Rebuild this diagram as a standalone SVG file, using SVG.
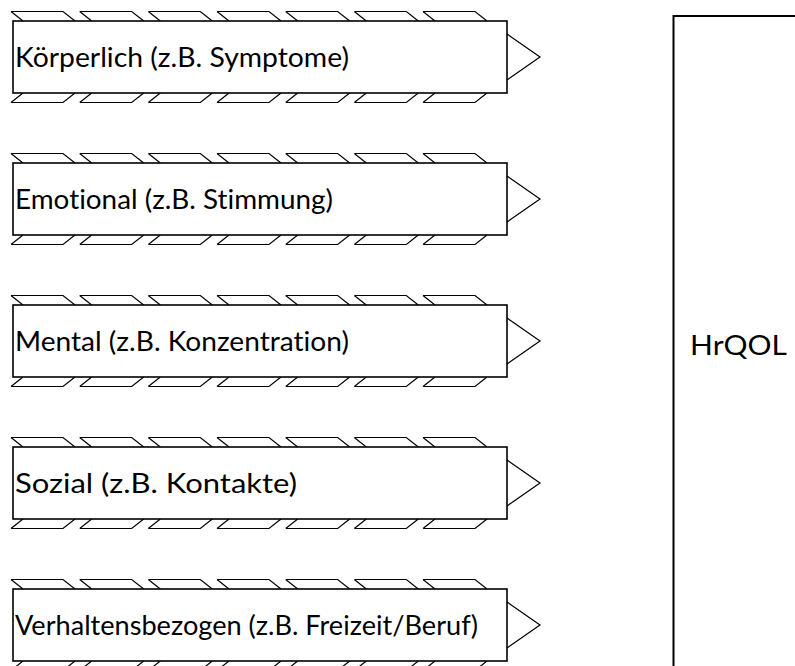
<svg xmlns="http://www.w3.org/2000/svg" xmlns:xlink="http://www.w3.org/1999/xlink" width="795" height="666" viewBox="0 0 795 666">
<style>
.box{fill:#fff;stroke:#000;stroke-width:1.6}
.tab{fill:none;stroke:#000;stroke-width:1.2;stroke-linejoin:miter}
.lbl{font-family:Lato,"Open Sans","Liberation Sans",sans-serif;font-size:27px;fill:#000;font-variant-ligatures:none}
.big{fill:#fff;stroke:#000;stroke-width:2}
</style>
<defs>
<g id="shape">
<path class="tab" d="M-2,-9.5h52l12,9.5M-2,-9.5l12,9.5 M66.7,-9.5h52l12,9.5M66.7,-9.5l12,9.5 M135.3,-9.5h52l12,9.5M135.3,-9.5l12,9.5 M204,-9.5h52l12,9.5M204,-9.5l12,9.5 M272.7,-9.5h52l12,9.5M272.7,-9.5l12,9.5 M341.3,-9.5h52l12,9.5M341.3,-9.5l12,9.5 M410,-9.5h52l12,9.5M410,-9.5l12,9.5"/>
<path class="tab" d="M-2,81.5h52l12,-9.5M-2,81.5l12,-9.5 M66.7,81.5h52l12,-9.5M66.7,81.5l12,-9.5 M135.3,81.5h52l12,-9.5M135.3,81.5l12,-9.5 M204,81.5h52l12,-9.5M204,81.5l12,-9.5 M272.7,81.5h52l12,-9.5M272.7,81.5l12,-9.5 M341.3,81.5h52l12,-9.5M341.3,81.5l12,-9.5 M410,81.5h52l12,-9.5M410,81.5l12,-9.5"/>
<rect class="box" x="0" y="0" width="494" height="72"/>
<path class="tab" d="M494,13L527,36L494,59"/>
</g>
</defs>
<g id="connectors"></g>
<g id="node-koerperlich" transform="translate(13,21)">
<use xlink:href="#shape"/>
<text class="lbl" x="2" y="45.5" textLength="334" lengthAdjust="spacingAndGlyphs">Körperlich (z.B. Symptome)</text>
</g>
<g id="node-emotional" transform="translate(13,163)">
<use xlink:href="#shape"/>
<text class="lbl" x="2" y="45.5" textLength="318" lengthAdjust="spacingAndGlyphs">Emotional (z.B. Stimmung)</text>
</g>
<g id="node-mental" transform="translate(13,305)">
<use xlink:href="#shape"/>
<text class="lbl" x="2" y="45.5" textLength="334" lengthAdjust="spacingAndGlyphs">Mental (z.B. Konzentration)</text>
</g>
<g id="node-sozial" transform="translate(13,447)">
<use xlink:href="#shape"/>
<text class="lbl" x="2" y="45.5" textLength="282" lengthAdjust="spacingAndGlyphs">Sozial (z.B. Kontakte)</text>
</g>
<g id="node-verhalten" transform="translate(13,589)">
<use xlink:href="#shape"/>
<text class="lbl" x="2" y="45.5" textLength="463" lengthAdjust="spacingAndGlyphs">Verhaltensbezogen (z.B. Freizeit/Beruf)</text>
</g>
<g id="node-hrqol">
<rect class="big" x="673.5" y="16" width="140" height="670"/>
<text class="lbl" x="690" y="355" textLength="97" lengthAdjust="spacingAndGlyphs">HrQOL</text>
</g>
</svg>
